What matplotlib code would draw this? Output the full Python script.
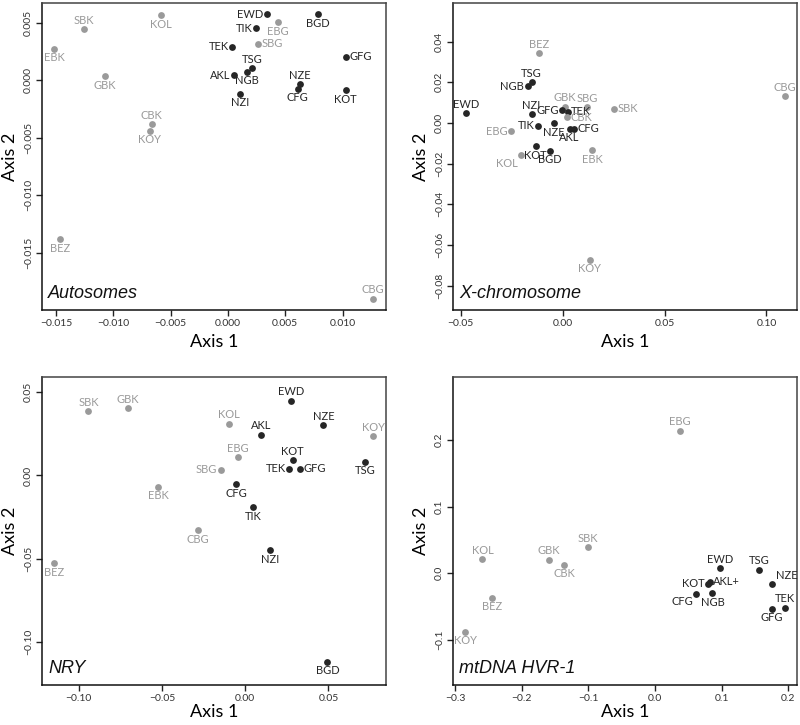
import matplotlib
matplotlib.use("Agg")
import matplotlib.pyplot as plt

plt.rcParams['font.family'] = ['Lato', 'DejaVu Sans']

gray_pops = ["SBK", "KOL", "EBK", "GBK", "CBK", "KOY", "EBG", "SBG", "BEZ", "CBG"]

# ---- Autosomes ----
auto_names = ["EBK", "SBK", "KOL", "GBK", "CBK", "KOY", "EWD", "TIK", "EBG", "BGD", "SBG",
              "TEK", "GFG", "TSG", "NGB", "AKL", "NZI", "NZE", "CFG", "KOT", "BEZ", "CBG"]
auto_x = [-0.01516, -0.01254, -0.00585, -0.01076, -0.00666, -0.00683, 0.00338, 0.00244, 0.00439,
          0.00788, 0.00262, 0.00038, 0.01030, 0.00209, 0.00166, 0.00055, 0.00105, 0.00626,
          0.00608, 0.01027, -0.01466, 0.01263]
auto_y = [0.00270, 0.00443, 0.00565, 0.00032, -0.00383, -0.00443, 0.00574, 0.00452, 0.00504,
          0.00574, 0.00316, 0.00290, 0.00203, 0.00104, 0.00072, 0.00041, -0.00119, -0.00037,
          -0.00076, -0.00090, -0.01385, -0.01902]
auto_xticks = [-0.015, -0.010, -0.005, 0.000, 0.005, 0.010]
auto_xticklabels = ["\u22120.015", "\u22120.010", "\u22120.005", "0.000", "0.005", "0.010"]
auto_yticks = [-0.015, -0.010, -0.005, 0.000, 0.005]
auto_yticklabels = ["\u22120.015", "\u22120.010", "\u22120.005", "0.000", "0.005"]

# ---- X-chromosome ----
x_names = ["BEZ", "TSG", "NGB", "EWD", "NZI", "GBK", "SBG", "SBK", "GFG", "TEK", "CBK", "CBG",
           "TIK", "NZE", "AKL", "CFG", "EBG", "KOT", "BGD", "KOL", "EBK", "KOY"]
x_x = [-0.01165, -0.01525, -0.0172, -0.0475, -0.01525, 0.00113, 0.0121, 0.0254, -0.0002, 0.00246,
       0.00226, 0.1090, -0.01214, -0.0043, 0.0034, 0.0057, -0.0251, -0.0133, -0.0061, -0.02065,
       0.01456, 0.0134]
x_y = [0.0344, 0.0201, 0.0180, 0.00477, 0.00442, 0.0080, 0.0077, 0.0069, 0.0064, 0.00555,
       0.0029, 0.01327, -0.0013, -0.0002, -0.0029, -0.0029, -0.0041, -0.01145, -0.01376, -0.01558,
       -0.01327, -0.0672]
x_xticks = [-0.05, 0.00, 0.05, 0.10]
x_xticklabels = ["\u22120.05", "0.00", "0.05", "0.10"]
x_yticks = [-0.08, -0.06, -0.04, -0.02, 0.00, 0.02, 0.04]
x_yticklabels = ["\u22120.08", "\u22120.06", "\u22120.04", "\u22120.02", "0.00", "0.02", "0.04"]

# ---- NRY ----
nry_names = ["SBK", "GBK", "KOL", "EWD", "NZE", "AKL", "KOY", "EBG", "KOT", "TEK", "GFG", "TSG",
             "SBG", "EBK", "CFG", "TIK", "CBG", "NZI", "BEZ", "BGD"]
nry_x = [-0.0941, -0.0702, -0.0096, 0.0274, 0.0470, 0.0094, 0.0768, -0.0042, 0.0286, 0.0266,
         0.0328, 0.0720, -0.0146, -0.0524, -0.0054, 0.0048, -0.0286, 0.0148, -0.1145, 0.0494]
nry_y = [0.0384, 0.0405, 0.0310, 0.0448, 0.0302, 0.0244, 0.0234, 0.0110, 0.0090, 0.0040,
         0.0040, 0.0082, 0.0034, -0.0068, -0.0052, -0.0190, -0.0328, -0.0448, -0.0528, -0.1118]
nry_xticks = [-0.10, -0.05, 0.00, 0.05]
nry_xticklabels = ["\u22120.10", "\u22120.05", "0.00", "0.05"]
nry_yticks = [-0.10, -0.05, 0.00, 0.05]
nry_yticklabels = ["\u22120.10", "\u22120.05", "0.00", "0.05"]

# ---- mtDNA HVR-1 ----
mt_names = ["EBG", "SBK", "KOL", "GBK", "CBK", "BEZ", "KOY", "EWD", "TSG", "NZE", "AKL+", "KOT",
            "CFG", "NGB", "TEK", "GFG"]
mt_x = [0.0371, -0.1012, -0.2591, -0.1594, -0.1364, -0.2441, -0.2847, 0.0977, 0.1559, 0.1759,
        0.0822, 0.0802, 0.0612, 0.0862, 0.1945, 0.1754]
mt_y = [0.2140, 0.0391, 0.0211, 0.0205, 0.0129, -0.0371, -0.0883, 0.0075, 0.0050, -0.0165,
        -0.0126, -0.0161, -0.0307, -0.0301, -0.0517, -0.0537]
mt_xticks = [-0.3, -0.2, -0.1, 0.0, 0.1, 0.2]
mt_xticklabels = ["\u22120.3", "\u22120.2", "\u22120.1", "0.0", "0.1", "0.2"]
mt_yticks = [-0.1, 0.0, 0.1, 0.2]
mt_yticklabels = ["\u22120.1", "0.0", "0.1", "0.2"]

# label placement (a=above, b=below, l=left, r=right, ar=above-right, bl=below-left)
auto_pos = {"EBK": "b", "SBK": "a", "KOL": "b", "GBK": "b", "CBK": "a", "KOY": "b", "EWD": "l",
            "TIK": "l", "EBG": "b", "BGD": "b", "SBG": "r", "TEK": "l", "GFG": "r", "TSG": "a",
            "NGB": "b", "AKL": "l", "NZI": "b", "NZE": "a", "CFG": "b", "KOT": "b", "BEZ": "b",
            "CBG": "a"}
x_pos = {"BEZ": "a", "TSG": "a", "NGB": "l", "EWD": "a", "NZI": "a", "GBK": "a", "SBG": "a",
         "SBK": "r", "GFG": "l", "TEK": "r", "CBK": "r", "CBG": "a", "TIK": "l", "NZE": "b",
         "AKL": "b", "CFG": "r", "EBG": "l", "KOT": "b", "BGD": "b", "KOL": "bl", "EBK": "b",
         "KOY": "b"}
nry_pos = {"SBK": "a", "GBK": "a", "KOL": "a", "EWD": "a", "NZE": "a", "AKL": "a", "KOY": "a",
           "EBG": "a", "KOT": "a", "TEK": "l", "GFG": "r", "TSG": "b", "SBG": "l", "EBK": "b",
           "CFG": "b", "TIK": "b", "CBG": "b", "NZI": "b", "BEZ": "b", "BGD": "b"}
mt_pos = {"EBG": "a", "SBK": "a", "KOL": "a", "GBK": "a", "CBK": "b", "BEZ": "b", "KOY": "b",
          "EWD": "a", "TSG": "a", "NZE": "ar", "AKL+": "r", "KOT": "l", "CFG": "bl", "NGB": "b",
          "TEK": "a", "GFG": "b"}

BLACK = "#262626"
GRAY = "#9a9a9a"

fig = plt.figure(figsize=(8, 7.25), dpi=100)
W, H = 800, 725


def add_axes(l, r, t, b):
    return fig.add_axes([l / W, 1 - b / H, (r - l) / W, (b - t) / H])


offsets = {"a": (0, 2.5, "center", "bottom"), "b": (0, -2.5, "center", "top"),
           "l": (-2.5, 0, "right", "center"), "r": (2.5, 0, "left", "center"),
           "ar": (2.5, 2.5, "left", "bottom"), "bl": (-2, -2, "right", "top")}


def panel(ax, names, xs, ys, pos, xlim, ylim, xticks, xtl, yticks, ytl, title, xlpad):
    for n, x, y in zip(names, xs, ys):
        base = n.rstrip("+")
        c = GRAY if base in gray_pops else BLACK
        ax.scatter([x], [y], s=24, color=c, zorder=3, linewidths=0)
        dx, dy, ha, va = offsets[pos[n]]
        ax.annotate(n, (x, y), xytext=(dx, dy), textcoords="offset points",
                    ha=ha, va=va, fontsize=8, color=c)
    ax.set_xlim(*xlim)
    ax.set_ylim(*ylim)
    ax.set_xticks(xticks)
    ax.set_xticklabels(xtl, fontsize=7.5, color="#333333")
    ax.set_yticks(yticks)
    ax.set_yticklabels(ytl, fontsize=7.5, color="#333333", rotation=90, va="center")
    ax.tick_params(direction="out", length=4, width=1, color="#222222", pad=2.5)
    for s in ax.spines.values():
        s.set_linewidth(1.1)
        s.set_color("#444444")
    ax.spines["bottom"].set_color("#111111")
    ax.spines["left"].set_color("#111111")
    ax.set_xlabel("Axis 1", fontsize=13, labelpad=xlpad)
    ax.set_ylabel("Axis 2", fontsize=13, labelpad=4)
    ax.text(0.018, 0.025, title, transform=ax.transAxes, fontsize=13, style="italic",
            ha="left", va="bottom", color="#111111", family="Liberation Sans")


ax1 = add_axes(42, 386, 3, 310)
panel(ax1, auto_names, auto_x, auto_y, auto_pos, (-0.01623, 0.01379), (-0.0200, 0.0067),
      auto_xticks, auto_xticklabels, auto_yticks, auto_yticklabels, "Autosomes", 4)

ax2 = add_axes(453, 797, 3, 310)
panel(ax2, x_names, x_x, x_y, x_pos, (-0.0538, 0.1150), (-0.0919, 0.0590),
      x_xticks, x_xticklabels, x_yticks, x_yticklabels, "X-chromosome", 4)

ax3 = add_axes(42, 386, 377, 685)
panel(ax3, nry_names, nry_x, nry_y, nry_pos, (-0.1220, 0.0846), (-0.1258, 0.0591),
      nry_xticks, nry_xticklabels, nry_yticks, nry_yticklabels, "NRY", 0.5)

ax4 = add_axes(453, 797, 377, 685)
panel(ax4, mt_names, mt_x, mt_y, mt_pos, (-0.3033, 0.2131), (-0.168, 0.2947),
      mt_xticks, mt_xticklabels, mt_yticks, mt_yticklabels, "mtDNA HVR-1", 0.5)

fig.savefig("out.png", dpi=100)
